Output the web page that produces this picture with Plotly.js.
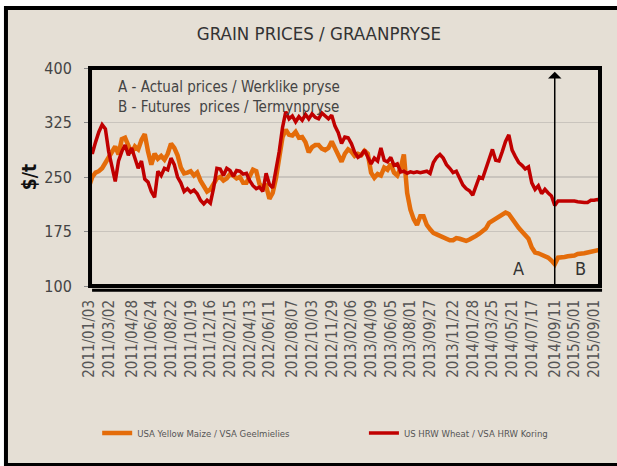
<!DOCTYPE html>
<html>
<head>
<meta charset="utf-8">
<script src="https://cdn.plot.ly/plotly-3.0.1.min.js"></script>
<style>html,body{margin:0;padding:0;background:#fff;}#chart{width:617px;height:466px;}</style>
</head>
<body>
<div id="chart"></div>
<script>
// USA Yellow Maize / VSA Geelmielies ($/t), one value per observation
const maize = [
  237,250,256,258,262,270,279,284,292,281,
  302,304,293,283,292,288,301,309,285,267,
  282,275,279,274,282,296,290,280,263,255,
  256,258,252,256,245,236,230,233,240,248,
  250,245,248,254,252,248,250,242,242,253,
  260,258,240,236,238,220,228,248,280,305,
  315,308,307,312,304,305,298,284,291,294,
  294,289,287,290,299,290,282,271,282,288,
  285,279,282,280,286,282,256,249,254,252,
  263,260,268,256,252,262,281,228,205,192,
  184,196,196,184,178,173,171,169,167,164,
  163,163,166,165,164,162,164,166,169,172,
  175,179,187,190,192,195,198,201,199,192,
  185,180,175,170,165,153,146,145,143,141,
  139,135,130,139,139,140,141,141,142,144,
  144,145,146,147,148,149,150
];
// US HRW Wheat / VSA HRW Koring ($/t)
const wheat = [
  297,282,298,312,322,316,285,263,244,272,
  285,294,280,290,276,262,272,247,243,230,
  222,258,252,262,260,276,267,250,242,230,
  234,229,232,227,218,213,218,214,235,262,
  261,252,262,259,251,259,258,254,255,245,
  238,234,236,230,255,240,235,258,285,318,
  340,330,334,326,333,328,336,330,337,332,
  330,338,334,330,335,320,311,296,305,304,
  296,284,277,280,287,276,268,276,272,290,
  273,271,277,266,268,257,258,255,257,256,
  257,256,257,258,255,270,277,281,276,267,
  262,256,258,248,239,234,231,225,238,250,
  248,262,276,288,273,272,285,299,308,287,
  278,270,266,261,264,242,233,238,227,233,
  228,224,211,217,217,217,218,217,217,216,
  215,215,215,218,218,219,218
];
// Dates shown on the category axis and the observation they belong to
const tickDates = ['2011/01/03','2011/03/02','2011/04/28','2011/06/24','2011/08/22','2011/10/19','2011/12/16',
  '2012/02/15','2012/04/13','2012/06/11','2012/08/07','2012/10/03','2012/11/29',
  '2013/02/06','2013/04/09','2013/06/05','2013/08/01','2013/09/27','2013/11/22',
  '2014/01/28','2014/03/25','2014/05/21','2014/07/17','2014/09/11','2015/05/01','2015/09/01'];
const tickObs = [0,6,13,19,25,31,37,43,49,55,62,68,74,80,86,92,98,104,111,117,123,129,135,142,148,154];
const splitObs = 142; // last actual price (2014/09/11); futures after
const yTicks = [100,175,250,325,400];
const seriesNames = ['USA Yellow Maize / VSA Geelmielies','US HRW Wheat / VSA HRW Koring'];
const noteLines = ['A - Actual prices / Werklike pryse','B - Futures  prices / Termynpryse'];

const FONT = "'Liberation Sans Narrow', 'DejaVu Sans Condensed', 'Arial Narrow', sans-serif";
const obs = maize.map((_, i) => i);

const traces = [
  {x: obs, y: maize, name: seriesNames[0], type: 'scatter', mode: 'lines',
   line: {color: '#E46C0A', width: 4.5}, legend: 'legend'},
  {x: obs, y: wheat, name: seriesNames[1], type: 'scatter', mode: 'lines',
   line: {color: '#C00000', width: 3.5}, legend: 'legend2'}
];

const legendBase = {orientation: 'h', xanchor: 'left', y: -0.674, yanchor: 'middle',
  font: {family: FONT, size: 9.5, color: '#555'}, bgcolor: 'rgba(0,0,0,0)'};

const layout = {
  width: 617, height: 466,
  margin: {l: 89, r: 17, t: 68, b: 180, pad: 0},
  paper_bgcolor: '#ffffff',
  plot_bgcolor: 'rgba(0,0,0,0)',
  font: {family: FONT, color: '#444'},
  title: {text: 'GRAIN PRICES / GRAANPRYSE', font: {family: FONT, size: 18.5, color: '#333'},
          xref: 'container', x: 0.517, xanchor: 'center', yref: 'container', y: 0.928, yanchor: 'middle'},
  showlegend: true,
  legend: Object.assign({x: 0.016}, legendBase),
  legend2: Object.assign({x: 0.538}, legendBase),
  xaxis: {range: [0, 155.8], tickmode: 'array', tickvals: tickObs, ticktext: tickDates,
          tickangle: -90, tickfont: {family: FONT, size: 15, color: '#555'},
          showgrid: false, zeroline: false, showline: false, ticks: '',
          ticklabelstandoff: 10, automargin: false, fixedrange: true},
  yaxis: {range: [100, 400], tickmode: 'array', tickvals: yTicks,
          tickfont: {family: FONT, size: 16, color: '#444'},
          showgrid: true, gridcolor: '#c9c4bd', gridwidth: 1.5, zeroline: false, showline: false,
          ticks: 'outside', ticklen: 4, tickcolor: '#888', tickwidth: 1,
          ticklabelstandoff: 9, automargin: false, fixedrange: true,
          title: {text: '$/t', font: {family: FONT, size: 19, color: '#111', weight: 'bold'}, standoff: 2}},
  shapes: [
    {type: 'rect', xref: 'paper', yref: 'paper', x0: -0.1625, x1: 1.06, y0: -0.821, y1: 1.275,
     fillcolor: '#e5dfd5', line: {color: '#000', width: 4}, layer: 'below'},
    {type: 'rect', xref: 'paper', yref: 'paper', x0: 0.002, x1: 1, y0: 0, y1: 1,
     fillcolor: 'rgba(0,0,0,0)', line: {color: '#000', width: 4}, layer: 'above'},
    {type: 'line', xref: 'paper', yref: 'paper', x0: 0.006, x1: 1.004, y0: -0.02, y1: -0.02,
     line: {color: '#000', width: 3}, layer: 'above'}
  ],
  annotations: [
    {text: noteLines.join('<br>'), xref: 'paper', yref: 'paper', x: 0.052, y: 0.962,
     xanchor: 'left', yanchor: 'top', align: 'left',
     showarrow: false, font: {family: FONT, size: 15, color: '#444'}},
    {text: '', xref: 'x', yref: 'y', x: splitObs, y: 395, axref: 'x', ayref: 'y', ax: splitObs, ay: 100,
     showarrow: true, arrowhead: 1, arrowsize: 1.5, arrowwidth: 1.5, arrowcolor: '#000', standoff: 0},
    {text: 'A', xref: 'x', yref: 'y', x: 131, y: 124, showarrow: false,
     font: {family: FONT, size: 18, color: '#333'}},
    {text: 'B', xref: 'x', yref: 'y', x: 150, y: 124, showarrow: false,
     font: {family: FONT, size: 18, color: '#333'}}
  ]
};

Plotly.newPlot('chart', traces, layout, {displayModeBar: false, staticPlot: true});
</script>
</body>
</html>
